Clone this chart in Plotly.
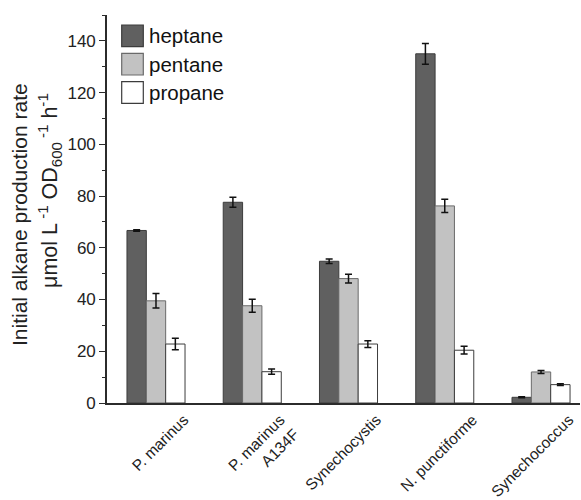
import plotly.graph_objects as go

# ---- data ----
categories = ["P. marinus", "P. marinus<br>A134F", "Synechocystis", "N. punctiforme", "Synechococcus"]
heptane = [66.7, 77.6, 54.8, 135.0, 2.2]
heptane_err = [0.3, 1.9, 0.9, 4.0, 0.2]
pentane = [39.5, 37.6, 48.1, 76.2, 12.0]
pentane_err = [2.8, 2.5, 1.7, 2.6, 0.6]
propane = [22.8, 12.1, 22.8, 20.4, 7.1]
propane_err = [2.2, 1.0, 1.3, 1.5, 0.3]
series_names = ["heptane", "pentane", "propane"]
y_ticks = [0, 20, 40, 60, 80, 100, 120, 140]

# ---- style ----
W, H = 581, 500
ML, MR, MT, MB = 107, 1, 15, 97
FONT = "Liberation Sans, Arial, Helvetica, sans-serif"
fills = ["#606060", "#c2c2c2", "#ffffff"]
edges = ["#3c3c3c", "#6a6a6a", "#3c3c3c"]
AX = "#2b2b2b"

pw = W - ML - MR
ph = H - MT - MB

def px_x(p):
    return (p - ML) / pw

def px_y(p):
    return (H - MB - p) / ph

xs = list(range(len(categories)))
fig = go.Figure()
for name, vals, errs, fc, ec in zip(series_names, [heptane, pentane, propane],
                                    [heptane_err, pentane_err, propane_err], fills, edges):
    fig.add_trace(go.Bar(
        x=xs, y=vals, name=name,
        marker=dict(color=fc, line=dict(color=ec, width=1)),
        error_y=dict(type="data", array=errs, visible=True, color="#111111",
                     thickness=1.5, width=3.5),
        showlegend=False, hoverinfo="skip",
    ))

label_offset = 0.29
fig.update_layout(
    width=W, height=H,
    margin=dict(l=ML, r=MR, t=MT, b=MB),
    paper_bgcolor="white", plot_bgcolor="white",
    barmode="group", bargap=0.397, bargroupgap=0,
    font=dict(family=FONT, color="#222222"),
    xaxis=dict(
        range=[-0.509, 4.405], showgrid=False, zeroline=False, automargin=False,
        showline=True, linecolor=AX, linewidth=1.6,
        tickmode="array", tickvals=[x + label_offset for x in xs],
        ticktext=categories,
        ticks="", tickangle=-45, tickfont=dict(size=15.5, family=FONT, color="#222222"),
    ),
    yaxis=dict(
        range=[0, 150], showgrid=False, zeroline=False, automargin=False,
        showline=True, linecolor=AX, linewidth=1.6,
        tickmode="array", tickvals=y_ticks,
        ticks="outside", ticklen=6, tickwidth=1.4, tickcolor=AX,
        tickfont=dict(size=17, family=FONT, color="#222222"),
        minor=dict(dtick=10, ticks="outside", ticklen=3, tickwidth=1.4, tickcolor=AX),
    ),
)

# y-axis title (two lines)
fig.add_annotation(text="Initial alkane production rate", textangle=-90,
                   xref="paper", yref="paper", x=px_x(20), y=px_y(215),
                   xanchor="center", yanchor="middle", showarrow=False,
                   font=dict(size=21, family=FONT, color="#222222"))
fig.add_annotation(text="μmol L<sup> -1</sup> OD<sub>600</sub><sup> -1</sup> h<sup>-1</sup>", textangle=-90,
                   xref="paper", yref="paper", x=px_x(49), y=px_y(191),
                   xanchor="center", yanchor="middle", showarrow=False,
                   font=dict(size=21.5, family=FONT, color="#222222"))

# legend (drawn)
box_x0, box_x1 = 121.7, 143.3
row_c = [35.8, 64.2, 92.5]
half = 10.8
for name, fc, ec, yc in zip(series_names, fills, edges, row_c):
    fig.add_shape(type="rect", xref="paper", yref="paper",
                  x0=px_x(box_x0), x1=px_x(box_x1), y0=px_y(yc + half), y1=px_y(yc - half),
                  fillcolor=fc, line=dict(color=ec, width=1.2))
    fig.add_annotation(text=name, xref="paper", yref="paper", x=px_x(147), y=px_y(yc),
                       xanchor="left", yanchor="middle", showarrow=False,
                       font=dict(size=20.5, family=FONT, color="#111111"))

fig.write_html("out.html", config={"displayModeBar": False},
               post_script="document.body.style.margin='0';document.body.style.overflow='hidden';")
